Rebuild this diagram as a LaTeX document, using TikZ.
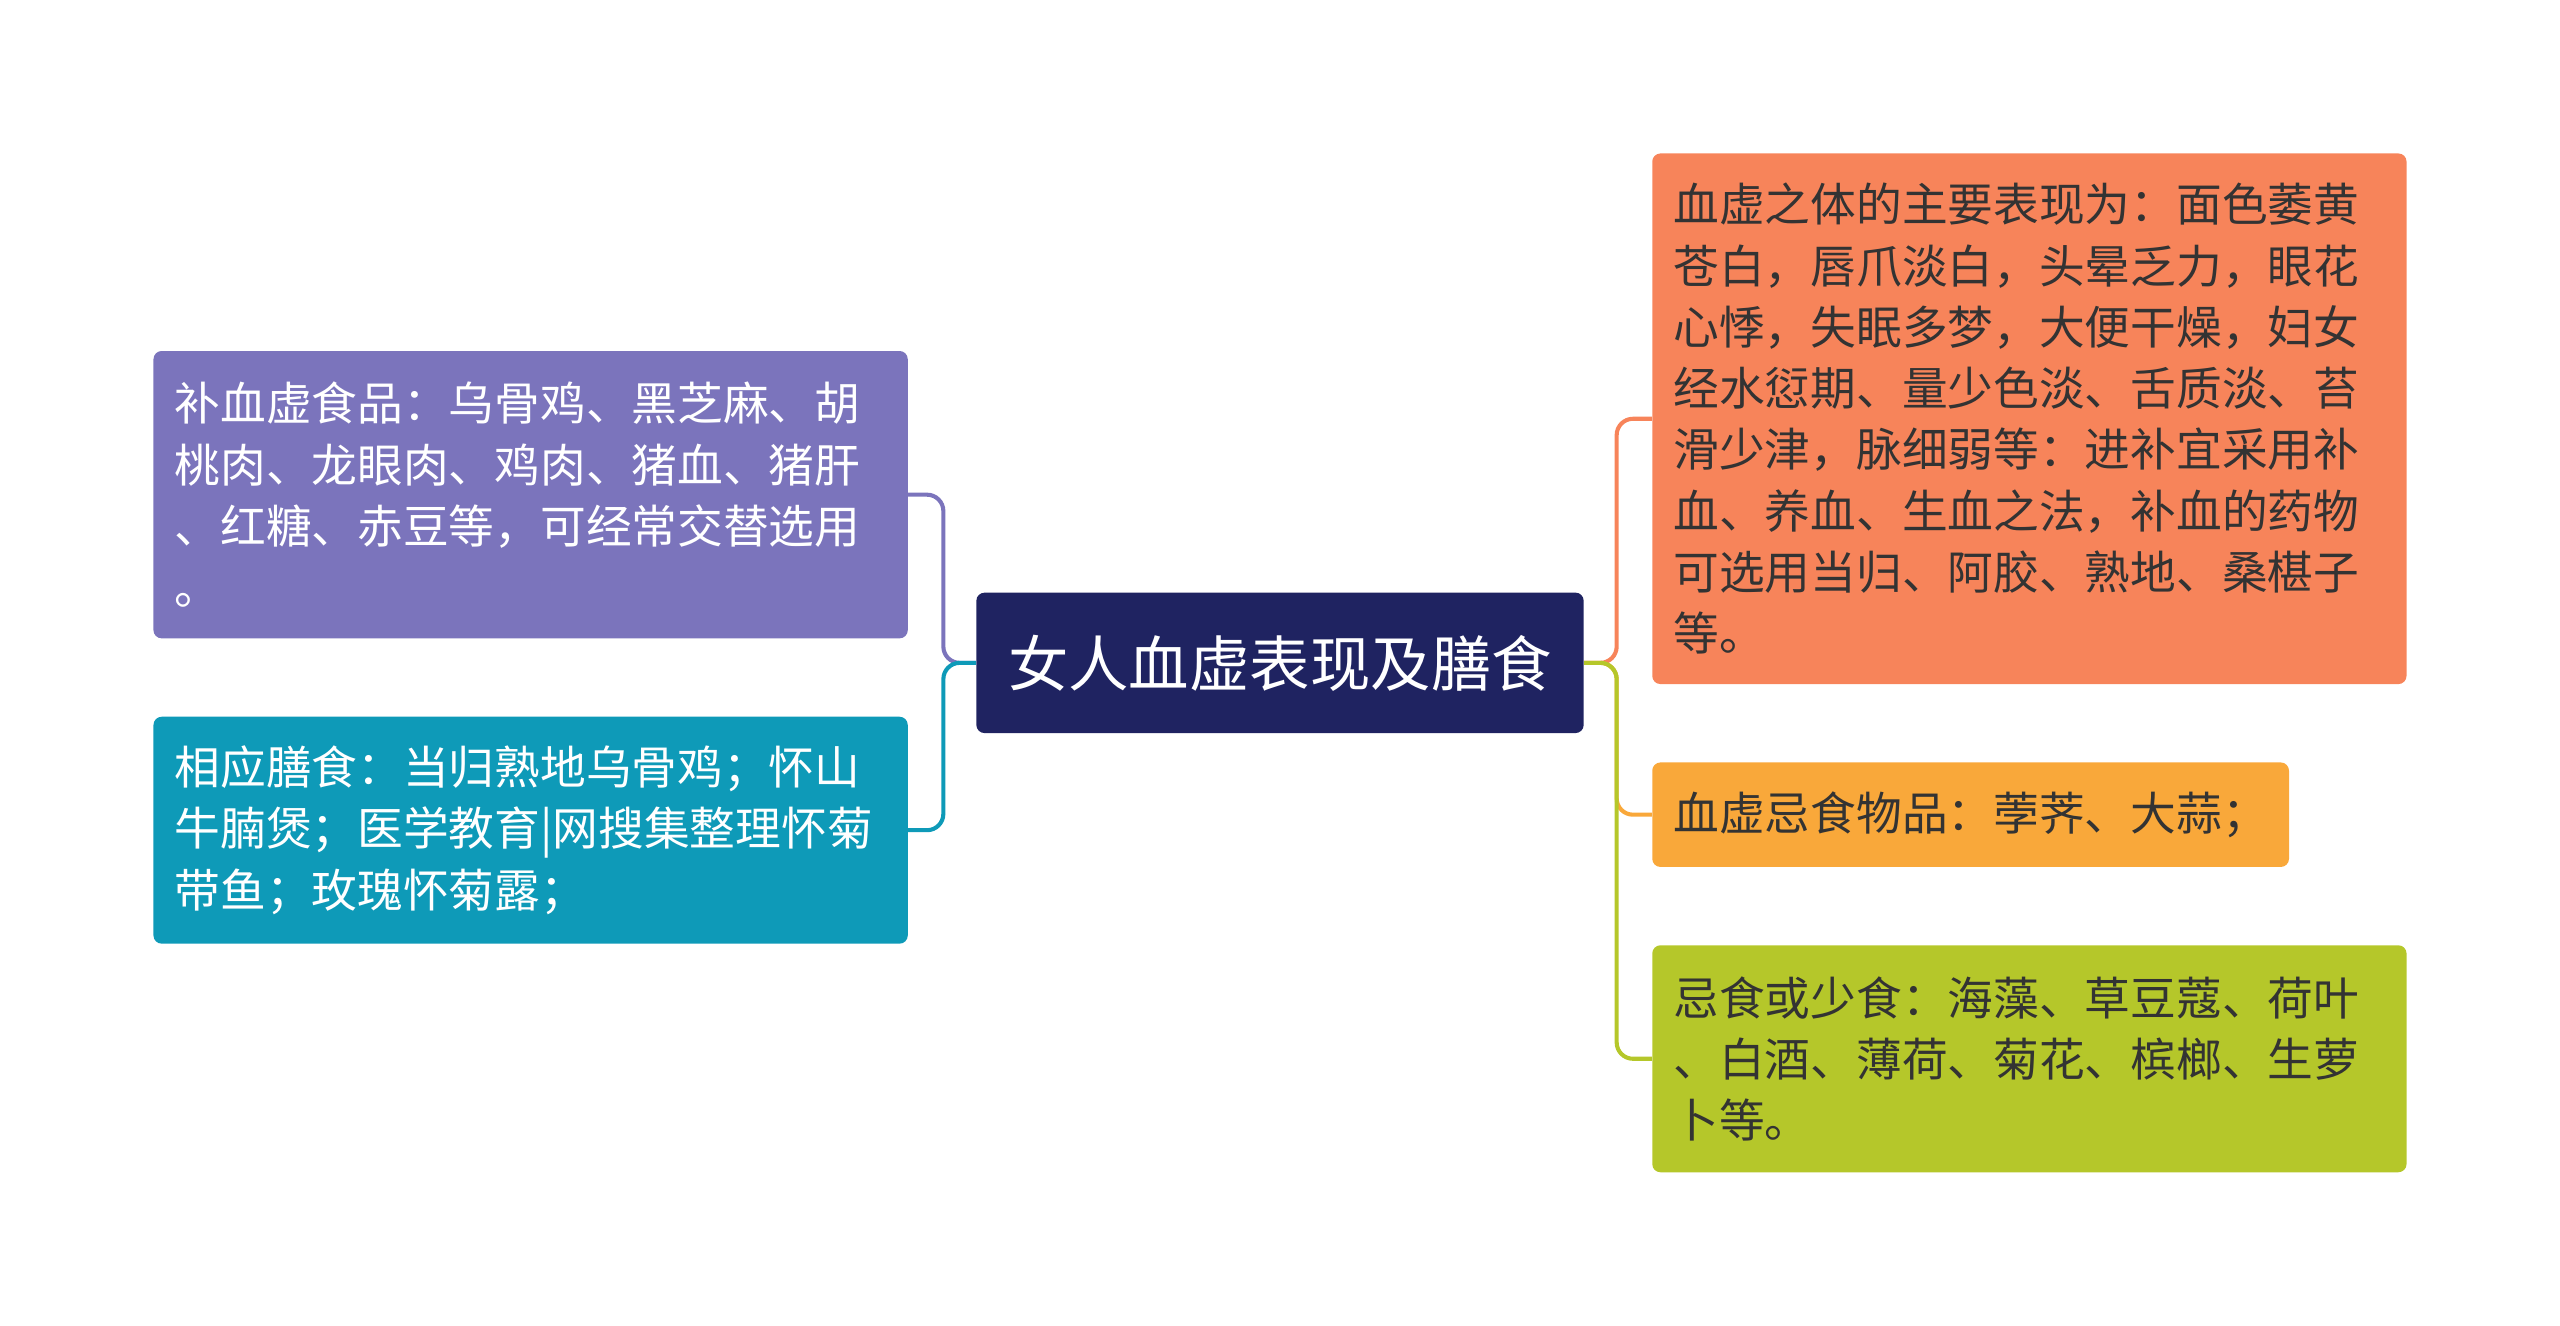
\documentclass[tikz,border=0pt]{standalone}
\usepackage{fontspec}
\setmainfont{Noto Sans CJK SC}
\usetikzlibrary{positioning}
\definecolor{purplebox}{HTML}{7B74BC}
\definecolor{tealbox}{HTML}{0E9AB8}
\definecolor{navybox}{HTML}{1F2361}
\definecolor{orangebox}{HTML}{F7845A}
\definecolor{amberbox}{HTML}{F9A83A}
\definecolor{greenbox}{HTML}{B5C72A}
\definecolor{darktext}{HTML}{333333}
\tikzstyle{topic} = [rectangle, rounded corners=5pt, inner sep=0pt, align=left, font=\fontsize{28}{37.5}\selectfont]
\tikzstyle{link} = [line width=2.5pt, rounded corners=10pt]
\begin{document}
\begin{tikzpicture}[x=1pt,y=1pt]
\useasboundingbox (0,0) rectangle (1568,812);

\node[topic, fill=navybox, text=white, minimum width=372, minimum height=86, align=center,
  font=\fontsize{37}{44}\selectfont] (root) at (784,406) {女人血虚表现及膳食};

\node[topic, fill=purplebox, text=white, minimum width=462, minimum height=176, text width=436] (food) at (325,509)
  {补血虚食品：乌骨鸡、黑芝麻、胡\\桃肉、龙眼肉、鸡肉、猪血、猪肝\\、红糖、赤豆等，可经常交替选用\\。};
\node[topic, fill=tealbox, text=white, minimum width=462, minimum height=139, text width=436] (diet) at (325,303.5)
  {相应膳食：当归熟地乌骨鸡；怀山\\牛腩煲；医学教育|网搜集整理怀菊\\带鱼；玫瑰怀菊露；};

\node[topic, fill=orangebox, text=darktext, minimum width=462, minimum height=325, text width=436] (sign) at (1243,555.5)
  {血虚之体的主要表现为：面色萎黄\\苍白，唇爪淡白，头晕乏力，眼花\\心悸，失眠多梦，大便干燥，妇女\\经水愆期、量少色淡、舌质淡、苔\\滑少津，脉细弱等：进补宜采用补\\血、养血、生血之法，补血的药物\\可选用当归、阿胶、熟地、桑椹子\\等。};
\node[topic, fill=amberbox, text=darktext, minimum width=390, minimum height=64, text width=364] (avoid) at (1207,313)
  {血虚忌食物品：荸荠、大蒜；};
\node[topic, fill=greenbox, text=darktext, minimum width=462, minimum height=139, text width=436] (less) at (1243,163.5)
  {忌食或少食：海藻、草豆蔻、荷叶\\、白酒、薄荷、菊花、槟榔、生萝\\卜等。};

% connectors
\draw[link, purplebox] (root.west) -- ++(-20,0) |- (food.east);
\draw[link, tealbox] (root.west) -- ++(-20,0) |- (diet.east);
\draw[link, orangebox] (root.east) -- ++(20,0) |- (sign.west);
\draw[link, amberbox] (root.east) -- ++(20,0) |- (avoid.west);
\draw[link, greenbox] (root.east) -- ++(20,0) |- (less.west);
\end{tikzpicture}
\end{document}
